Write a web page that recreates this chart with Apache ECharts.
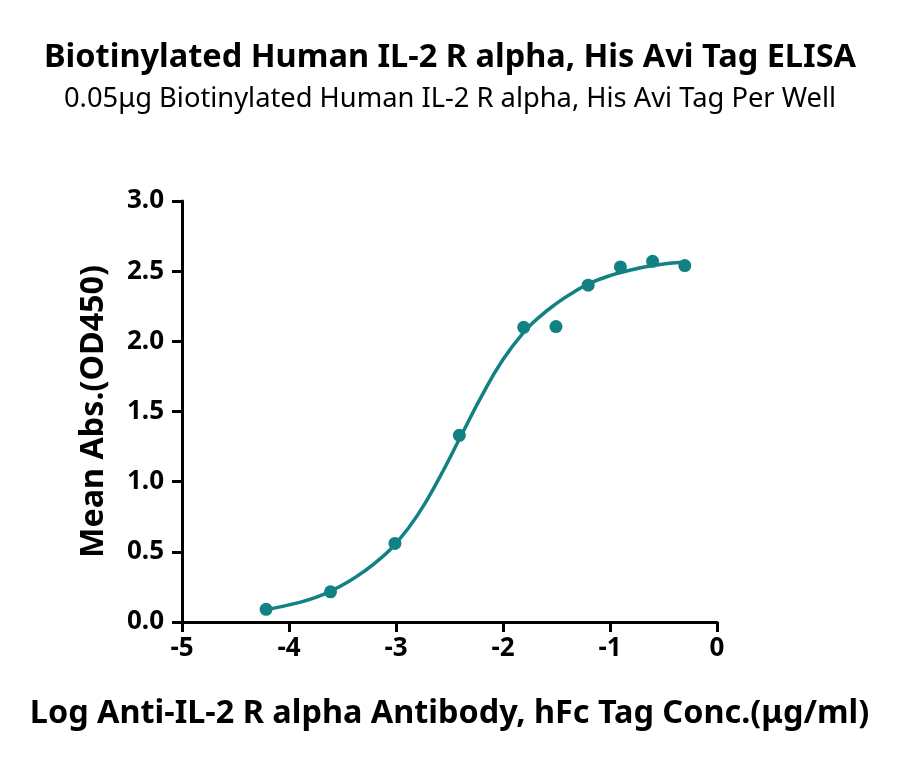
<!DOCTYPE html>
<html>
<head>
<meta charset="utf-8">
<script src="https://cdn.jsdelivr.net/npm/echarts@6/dist/echarts.min.js"></script>
<style>
  html, body { margin: 0; padding: 0; background: #fff; }
  #chart { width: 900px; height: 760px; }
</style>
</head>
<body>
<div id="chart"></div>
<script>
// measured points: log concentration vs OD450
var logConc = [-4.214, -3.612, -3.010, -2.408, -1.806, -1.505, -1.204, -0.903, -0.602, -0.301];
var meanAbs = [0.09, 0.215, 0.56, 1.33, 2.10, 2.105, 2.40, 2.53, 2.57, 2.54];

// fitted curve
var curveX = [-4.21, -3.90, -3.75, -3.61, -3.45, -3.30, -3.15, -3.00, -2.80, -2.60, -2.40, -2.20, -2.00, -1.80, -1.65, -1.50, -1.35, -1.20, -1.05, -0.90, -0.60, -0.29];
var curveY = [0.088, 0.14, 0.175, 0.22, 0.285, 0.36, 0.45, 0.56, 0.76, 1.02, 1.315, 1.61, 1.87, 2.07, 2.18, 2.27, 2.345, 2.41, 2.455, 2.49, 2.54, 2.565];

var xTicks = [-5, -4, -3, -2, -1, 0];

var teal = '#128184';
var font = 'Noto Sans';

var chart = echarts.init(document.getElementById('chart'), null, { renderer: 'canvas' });

function pairs(xs, ys) {
  return xs.map(function (x, i) { return [x, ys[i]]; });
}

var option = {
  backgroundColor: '#fff',
  animation: false,
  title: [
    {
      text: 'Biotinylated Human IL-2 R alpha, His Avi Tag ELISA',
      left: 'center',
      top: 36,
      textStyle: { fontFamily: font, fontWeight: 'bold', fontSize: 32.5, color: '#000' }
    },
    {
      text: '0.05μg Biotinylated Human IL-2 R alpha, His Avi Tag Per Well',
      left: 'center',
      top: 81,
      textStyle: { fontFamily: font, fontWeight: 'normal', fontSize: 27.3, color: '#000' }
    }
  ],
  grid: { left: 182, right: 183, top: 201, bottom: 138 },
  xAxis: {
    type: 'value',
    min: -5,
    max: 0,
    interval: 1,
    name: 'Log Anti-IL-2 R alpha Antibody, hFc Tag Conc.(μg/ml)',
    nameLocation: 'middle',
    nameGap: 76,
    nameTextStyle: { fontFamily: font, fontWeight: 'bold', fontSize: 32.4, color: '#000' },
    axisLine: { onZero: false, lineStyle: { color: '#000', width: 3 } },
    axisTick: { length: 10, lineStyle: { color: '#000', width: 3 } },
    axisLabel: {
      fontFamily: font, fontWeight: 'bold', fontSize: 26, color: '#000', margin: 14,
      formatter: function (v) { return xTicks.indexOf(v) >= 0 ? String(v) : ''; }
    },
    splitLine: { show: false }
  },
  yAxis: {
    type: 'value',
    min: 0,
    max: 3,
    interval: 0.5,
    name: 'Mean Abs.(OD450)',
    nameLocation: 'middle',
    nameGap: 72,
    nameTextStyle: { fontFamily: font, fontWeight: 'bold', fontSize: 32.3, color: '#000' },
    axisLine: { show: true, onZero: false, lineStyle: { color: '#000', width: 3 } },
    axisTick: { show: true, length: 10, lineStyle: { color: '#000', width: 3 } },
    axisLabel: {
      fontFamily: font, fontWeight: 'bold', fontSize: 26, color: '#000', margin: 18,
      formatter: function (v) { return v.toFixed(1); }
    },
    splitLine: { show: false }
  },
  series: [
    {
      type: 'line',
      data: pairs(curveX, curveY),
      smooth: 0.5,
      showSymbol: false,
      lineStyle: { color: teal, width: 3.5 },
      z: 2
    },
    {
      type: 'scatter',
      data: pairs(logConc, meanAbs),
      symbol: 'circle',
      symbolSize: 13,
      itemStyle: { color: teal, opacity: 1 },
      z: 3
    }
  ]
};

chart.setOption(option);
</script>
</body>
</html>
